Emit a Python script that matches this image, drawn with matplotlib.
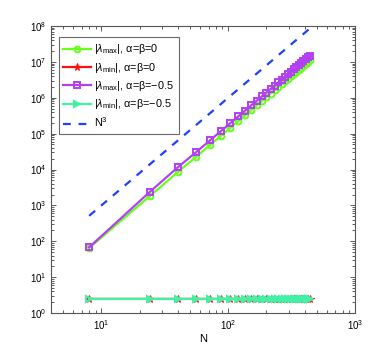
import matplotlib
matplotlib.use("Agg")
import matplotlib.pyplot as plt
import numpy as np

plt.rcParams['font.family'] = ['Liberation Sans', 'DejaVu Sans']
plt.rcParams['mathtext.fontset'] = 'custom'
plt.rcParams['mathtext.rm'] = 'Liberation Sans'
plt.rcParams['mathtext.it'] = 'Liberation Sans:italic'
plt.rcParams['axes.unicode_minus'] = True

# polynomial degree
N = [8, 24, 40, 56, 72, 88, 104, 120, 136, 152, 168, 184, 200, 216,
     232, 248, 264, 280, 296, 312, 328, 344, 360, 376, 392, 408, 424, 440]

# |lambda_max|, alpha=beta=0
lmax_0 = [65, 1800, 8500, 23000, 48500, 88600, 146000, 225000, 327000,
          456000, 616000, 810000, 1040000, 1310000, 1620000, 1980000,
          2390000, 2850000, 3370000, 3950000, 4590000, 5290000, 6070000,
          6910000, 7830000, 8830000, 9910000, 11070000]
# |lambda_min|, alpha=beta=0
lmin_0 = [2.47, 2.467, 2.467, 2.467, 2.467, 2.467, 2.467, 2.467, 2.467,
          2.467, 2.467, 2.467, 2.467, 2.467, 2.467, 2.467, 2.467, 2.467,
          2.467, 2.467, 2.467, 2.467, 2.467, 2.467, 2.467, 2.467, 2.467, 2.467]
# |lambda_max|, alpha=beta=-0.5
lmax_h = [68, 2350, 11500, 30700, 65300, 119000, 197000, 302000, 440000,
          615000, 830000, 1090000, 1400000, 1760000, 2190000, 2670000,
          3220000, 3840000, 4540000, 5310000, 6180000, 7120000, 8160000,
          9300000, 10540000, 11890000, 13340000, 14900000]
# |lambda_min|, alpha=beta=-0.5
lmin_h = [2.47, 2.467, 2.467, 2.467, 2.467, 2.467, 2.467, 2.467, 2.467,
          2.467, 2.467, 2.467, 2.467, 2.467, 2.467, 2.467, 2.467, 2.467,
          2.467, 2.467, 2.467, 2.467, 2.467, 2.467, 2.467, 2.467, 2.467, 2.467]

green = '#66ff1a'
red = '#ff1010'
purple = '#b340f2'
teal = '#40f2a6'
blue = '#2040ff'

fig = plt.figure(figsize=(3.92, 3.52), dpi=100)
ax = fig.add_axes([51/392, 1 - 313/352, 304/392, 287/352])

Nc = np.array(N, dtype=float)
ax.loglog(N, lmax_0, '-o', color=green, lw=1.6, ms=4.2, mfc='none', mew=1.4,
          label=r'|$\lambda_{\rm max}$|, α=β=0')
ax.loglog(N, lmin_0, '-*', color=red, lw=1.6, ms=5.5, mew=0.8,
          label=r'|$\lambda_{\rm min}$|, α=β=0')
ax.loglog(N, lmax_h, '-s', color=purple, lw=1.6, ms=4.0, mfc='none', mew=1.4,
          label=r'|$\lambda_{\rm max}$|, α=β=−0.5')
ax.loglog(N, lmin_h, '->', color=teal, lw=1.6, ms=4.5, mfc='none', mew=1.4,
          label=r'|$\lambda_{\rm min}$|, α=β=−0.5')
ax.loglog(N, Nc**3, '--', color=blue, lw=1.6, dashes=(3.5, 3.5),
          label=r'N$^3$')

ax.set_xlim(4, 1000)
ax.set_ylim(1, 1e8)
ax.set_yticks([10.0**k for k in range(9)])
ax.set_xticks([10, 100, 1000])
ax.tick_params(which='both', direction='in', top=True, right=True,
               labelsize=7, color='#444444', width=0.6)
ax.tick_params(which='major', length=3.5)
ax.tick_params(which='minor', length=2)
for s in ax.spines.values():
    s.set_color('#555555')
    s.set_linewidth(0.8)
ax.set_xlabel('N', fontsize=8, labelpad=2)

leg = ax.legend(loc='upper left', bbox_to_anchor=(0.025, 0.96), fontsize=7.8,
                frameon=True, fancybox=False, edgecolor='#444444',
                handlelength=2.5, handletextpad=0.3, labelspacing=0.4,
                borderpad=0.45, borderaxespad=0)
leg.get_frame().set_linewidth(0.8)

fig.savefig('out.png', dpi=100)
